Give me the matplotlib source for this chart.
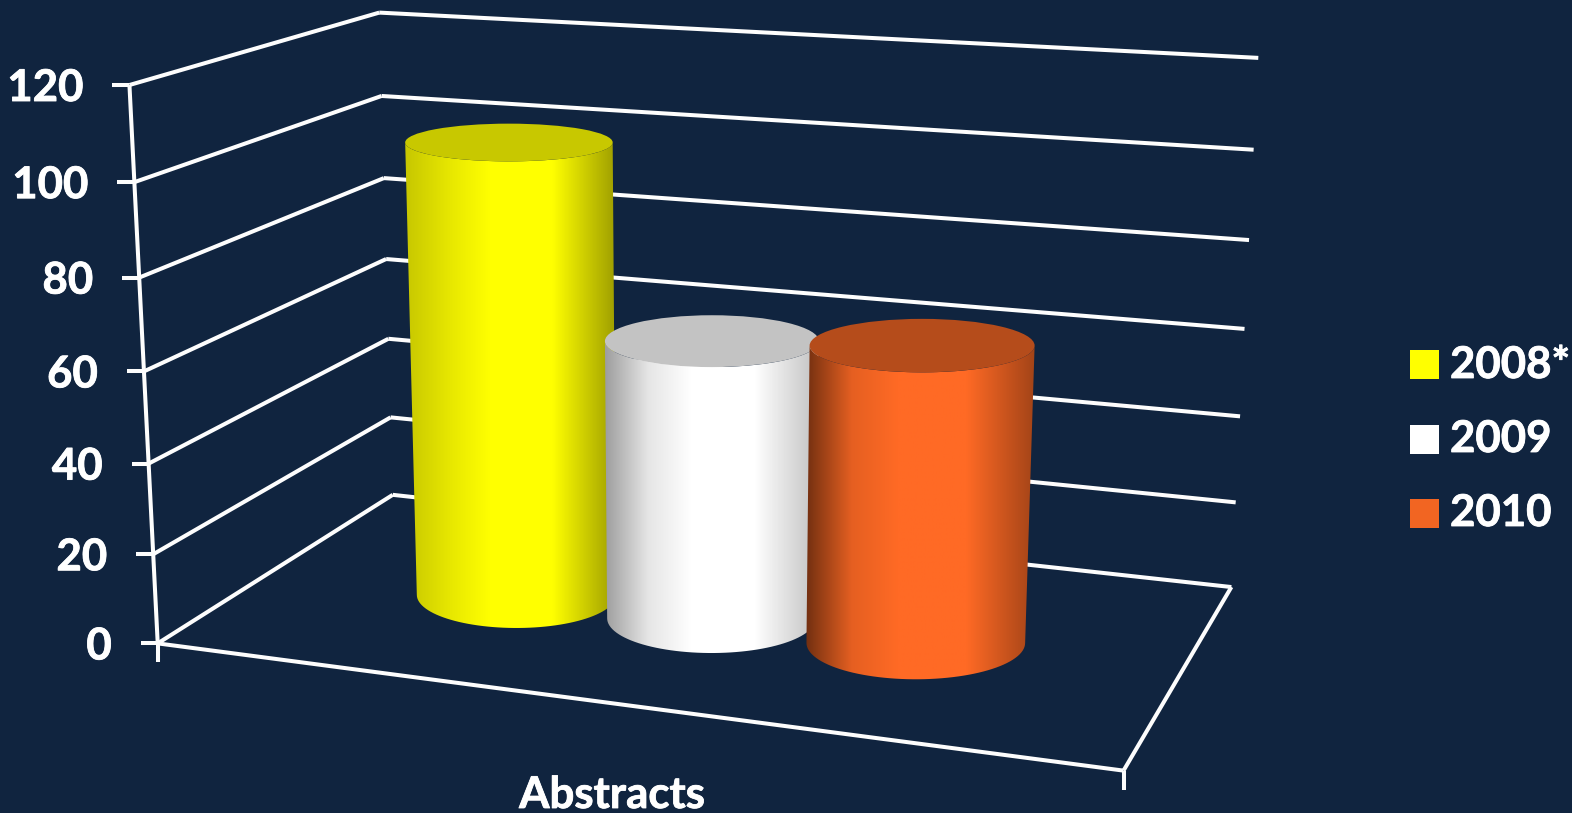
import numpy as np
import matplotlib
matplotlib.use("Agg")
import matplotlib.pyplot as plt
import matplotlib.patheffects as pe
from matplotlib.patches import Polygon, Ellipse, Rectangle

# data
series_names = ["2008*", "2009", "2010"]
series_values = [102.5, 62.5, 65.5]
category = "Abstracts"
y_ticks = [0, 20, 40, 60, 80, 100, 120]

# style
bg_color = "#10243f"
line_color = "#fdfdfd"
side_colors = ["#ffff00", "#ffffff", "#ff6a25"]
top_colors = ["#c8c800", "#c3c3c3", "#b54c1b"]
legend_colors = ["#ffff00", "#ffffff", "#f26522"]
edge_shades = [(0.78, 0.62), (0.62, 0.75), (0.45, 0.64)]
font = "Lato"

# where the chart box corners land on the picture, used to fit the 3d view
# (x across, depth from front 0 to back 1, value)
box_front_left = [(158, 643), (153, 554), (148, 465), (143, 372), (140, 277), (135, 182), (130, 84)]
box_back_left = [(393, 495), (390, 418), (388, 338), (387, 258), (386, 178), (381, 97), (377, 13)]
box_back_right = [(1231, 587), (1236, 502), (1240, 416), (1245, 329), (1249, 240), (1254, 150), (1258, 58)]
box_front_right = (1123, 771)


def fit_camera():
    rows = []
    def add(x, d, v, px):
        X = [x, d, v / 120, 1]
        rows.append(X + [0, 0, 0, 0] + [-px[0] * c for c in X])
        rows.append([0, 0, 0, 0] + X + [-px[1] * c for c in X])
    for i, v in enumerate(y_ticks):
        add(0, 0, v, box_front_left[i])
        add(0, 1, v, box_back_left[i])
        add(1, 1, v, box_back_right[i])
    add(1, 0, 0, box_front_right)
    _, _, vt = np.linalg.svd(np.array(rows, dtype=float))
    return vt[-1].reshape(3, 4)


cam = fit_camera()


def proj(x, d, v):
    p = cam @ np.array([x, d, v / 120, 1.0])
    return p[0] / p[2], p[1] / p[2]


fig = plt.figure(figsize=(15.72, 8.13), dpi=100, facecolor=bg_color)
ax = fig.add_axes([0, 0, 1, 1])
ax.set_facecolor(bg_color)

lw = 2.9
heavy = [pe.withStroke(linewidth=0.6, foreground="white")]


def seg(a, b):
    ax.plot([a[0], b[0]], [a[1], b[1]], color=line_color, lw=lw, solid_capstyle="butt", zorder=1)


def label(x, y, s, **kw):
    ax.text(x, y, s, color="white", fontsize=31.5, fontweight="bold", family=font,
            path_effects=heavy, **kw)


# walls and grid
for v in y_ticks:
    fl = proj(0, 0, v)
    bl = proj(0, 1, v)
    br = proj(1, 1, v)
    seg(fl, bl)
    seg(bl, br)
    seg((fl[0] - 17, fl[1]), fl)
    label(fl[0] - 46, fl[1] + 3, str(v), ha="right", va="center")
seg(proj(0, 0, 120), proj(0, 0, 0))
f0 = proj(0, 0, 0)
seg(f0, (f0[0], f0[1] + 19))
fr = proj(1, 0, 0)
seg(f0, fr)
seg(fr, proj(1, 1, 0))
seg(fr, (fr[0], fr[1] + 19))

# cylinders
bar_x = [0.284, 0.506, 0.728]
bar_depth = 0.48
rad_x = 0.116
rad_d = 0.21
shade_pos = [0, 0.2, 0.4, 0.7, 1]


def ellipse_at(x, v):
    cx, cy = proj(x, bar_depth, v)
    rx = abs(proj(x + rad_x, bar_depth, v)[0] - proj(x - rad_x, bar_depth, v)[0]) / 2
    ry = abs(proj(x, bar_depth + rad_d, v)[1] - proj(x, bar_depth - rad_d, v)[1]) / 2
    return cx, cy, rx, ry


for i, val in enumerate(series_values):
    z = 2 + i
    tx, ty, trx, try_ = ellipse_at(bar_x[i], val)
    bx, by, brx, bry = ellipse_at(bar_x[i], 0)
    t = np.linspace(np.pi, 0, 60)
    verts = [(tx - trx, ty), (bx - brx, by)]
    verts += list(zip(bx + brx * np.cos(t), by + bry * np.sin(t)))
    verts += [(tx + trx, ty)]
    verts += list(zip(tx + trx * np.cos(t[::-1]), ty + try_ * np.sin(t[::-1])))
    body = Polygon(verts, closed=True, facecolor="none", edgecolor="none", zorder=z)
    ax.add_patch(body)

    left, right = min(tx - trx, bx - brx), max(tx + trx, bx + brx)
    u = np.linspace(0, 1, 256)
    shade_val = [edge_shades[i][0], 0.9, 1, 1, edge_shades[i][1]]
    shade = np.interp(u, shade_pos, shade_val)
    rgb = np.array(matplotlib.colors.to_rgb(side_colors[i]))
    img = (shade[:, None] * rgb)[None, :, :]
    im = ax.imshow(img, extent=(left, right, by + bry + 2, ty - try_ - 2), aspect="auto",
                   zorder=z, interpolation="bilinear")
    im.set_clip_path(body)

    ax.add_patch(Ellipse((tx, ty), 2 * trx, 2 * try_, facecolor=top_colors[i], edgecolor="none", zorder=z))

# legend
for i, name in enumerate(series_names):
    y = 365 + i * 74
    ax.add_patch(Rectangle((1410, y - 14.5), 29, 29, facecolor=legend_colors[i], edgecolor="none"))
    label(1450, y, name, ha="left", va="center")

label(612, 808, category, ha="center", va="baseline")

ax.set_xlim(0, 1572)
ax.set_ylim(813, 0)
ax.axis("off")

fig.savefig("out.png", dpi=100, facecolor=bg_color)
